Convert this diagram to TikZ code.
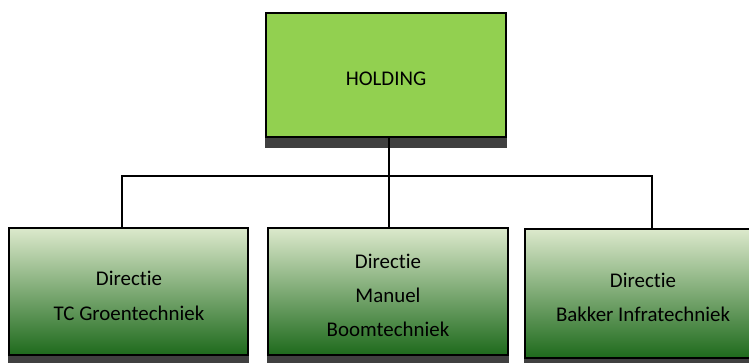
\documentclass[tikz,border=0pt]{standalone}
\usepackage{fontspec}
\setmainfont{Carlito}[Ligatures={NoCommon}]
\definecolor{holdgreen}{HTML}{92D050}
\definecolor{gtop}{HTML}{DCE9CC}
\definecolor{gmid}{HTML}{A6BF77}
\definecolor{gbot}{HTML}{1E6A1C}
\definecolor{shadowgray}{HTML}{404040}
\tikzset{
  boxstyle/.style={draw=black, line width=1.5pt, inner sep=0pt, rectangle},
  holdbox/.style={boxstyle, fill=holdgreen},
  dirbox/.style={boxstyle, top color=gtop, middle color=gmid, bottom color=gbot},
  shadowfill/.style={fill=shadowgray},
  lbl/.style={anchor=base, inner sep=0pt, font=\fontsize{20.9}{24}\selectfont, text=black},
  conn/.style={draw=black, line width=1.3pt}
}
\begin{document}
\begin{tikzpicture}[x=1pt,y=1pt]
\useasboundingbox (0,0) rectangle (749,363);
\clip (0,0) rectangle (749,363);
% shadows
\fill[shadowfill] (265,215) rectangle (507,300);
\fill[shadowfill] (8,0) rectangle (249,120);
\fill[shadowfill] (267,0) rectangle (509,120);
\fill[shadowfill] (524,0) rectangle (766,120);
% boxes
\node[holdbox, minimum width=240pt, minimum height=124pt] (h) at (386,288) {};
\node[dirbox, minimum width=239pt, minimum height=127pt] (b1) at (128.5,71.5) {};
\node[dirbox, minimum width=240pt, minimum height=127pt] (b2) at (388,71.5) {};
\node[dirbox, minimum width=240pt, minimum height=129pt] (b3) at (645,69.5) {};
% texts
\node[lbl] (th) at (386,277) {HOLDING};
\node[lbl] (t1a) at (129,77) {Directie};
\node[lbl] (t1b) at (129,42) {TC Groentechniek};
\node[lbl] (t2a) at (388,94) {Directie};
\node[lbl] (t2b) at (388,60) {Manuel};
\node[lbl] (t2c) at (388,26) {Boomtechniek};
\node[lbl] (t3a) at (643,75) {Directie};
\node[lbl] (t3b) at (643,41) {Bakker Infratechniek};
% connectors
\coordinate (j) at (389,187);
\coordinate (jl) at (122,187);
\coordinate (jr) at (652,187);
\draw[conn] (h.south -| j) -- (j);
\draw[conn] (b1.north -| jl) -- (jl) -- (jr) -- (b3.north -| jr);
\draw[conn] (j) -- (b2.north -| j);
\end{tikzpicture}
\end{document}
